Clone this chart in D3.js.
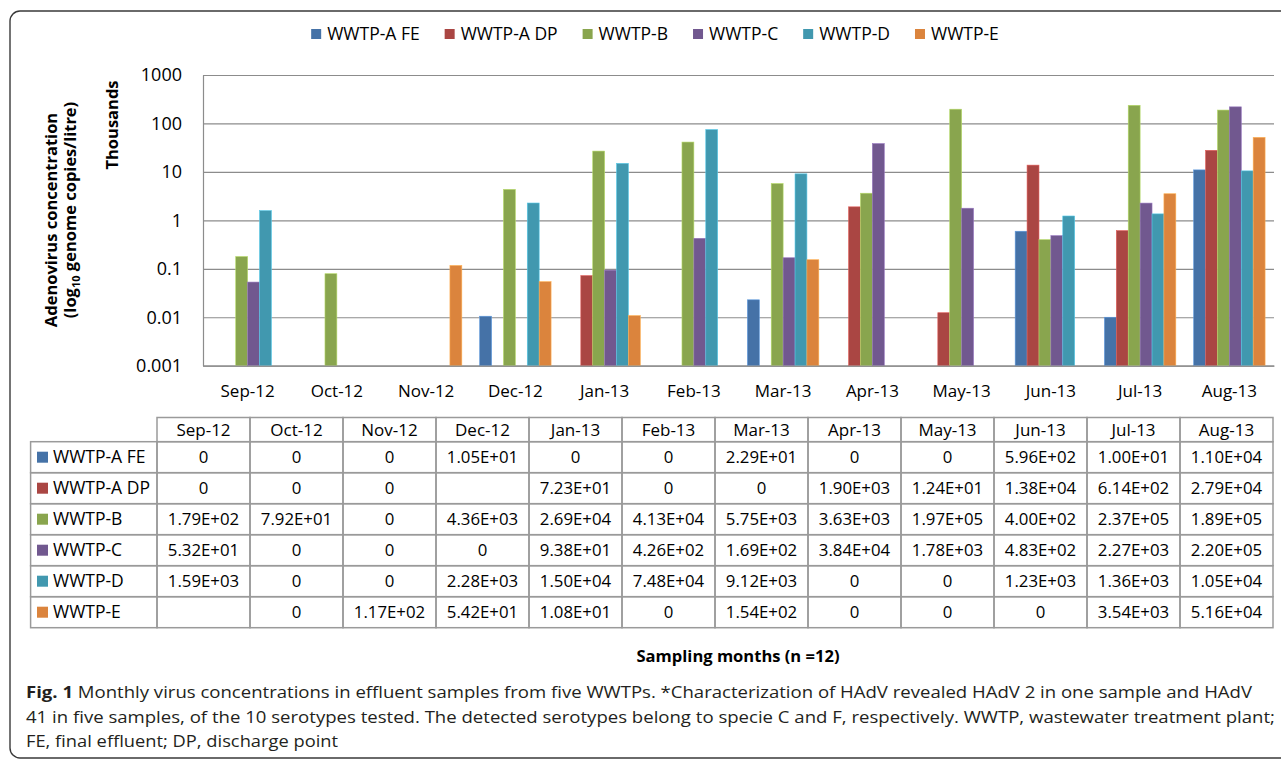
<!DOCTYPE html>
<html>
<head>
<meta charset="utf-8">
<script src="https://cdn.jsdelivr.net/npm/d3@7"></script>
<style>
    body { margin: 0; background: #fff; }
    svg { display: block; font-family: "Open Sans", sans-serif; }
</style>
</head>
<body>
<div id="container"></div>
<script>
// Months on the x axis and in the table header
const months = ["Sep-12", "Oct-12", "Nov-12", "Dec-12", "Jan-13", "Feb-13",
    "Mar-13", "Apr-13", "May-13", "Jun-13", "Jul-13", "Aug-13"];

const seriesNames = ["WWTP-A FE", "WWTP-A DP", "WWTP-B", "WWTP-C", "WWTP-D", "WWTP-E"];
const seriesColors = ["#4572A7", "#AA4643", "#89A54E", "#71588F", "#4198AF", "#DB843D"];

// genome copies / litre, null = empty cell in the table
const wwtpAFE = [0, 0, 0, 10.5, 0, 0, 22.9, 0, 0, 596, 10.0, 11000];
const wwtpADP = [0, 0, 0, null, 72.3, 0, 0, 1900, 12.4, 13800, 614, 27900];
const wwtpB = [179, 79.2, 0, 4360, 26900, 41300, 5750, 3630, 197000, 400, 237000, 189000];
const wwtpC = [53.2, 0, 0, 0, 93.8, 426, 169, 38400, 1780, 483, 2270, 220000];
const wwtpD = [1590, 0, 0, 2280, 15000, 74800, 9120, 0, 0, 1230, 1360, 10500];
const wwtpE = [null, 0, 117, 54.2, 10.8, 0, 154, 0, 0, 0, 3540, 51600];

const yTicks = [0.001, 0.01, 0.1, 1, 10, 100, 1000];

const captionLines = [
    "Monthly virus concentrations in effluent samples from five WWTPs. *Characterization of HAdV revealed HAdV 2 in one sample and HAdV",
    "41 in five samples, of the 10 serotypes tested. The detected serotypes belong to specie C and F, respectively. WWTP, wastewater treatment plant;",
    "FE, final effluent; DP, discharge point"
];

const seriesValues = [wwtpAFE, wwtpADP, wwtpB, wwtpC, wwtpD, wwtpE];
const series = seriesNames.map((name, i) => ({
    name: name,
    color: seriesColors[i],
    values: seriesValues[i]
}));

const W = 1281, H = 761;
const plot = { left: 203, right: 1274, top: 75, bottom: 365.7 };

const svg = d3.select("#container")
    .append("svg")
    .attr("width", W)
    .attr("height", H);

// outer frame (right side runs off the picture)
svg.append("rect")
    .attr("x", 10).attr("y", 11)
    .attr("width", 1320).attr("height", 747)
    .attr("rx", 10)
    .attr("fill", "none")
    .attr("stroke", "#3a3a3a")
    .attr("stroke-width", 1.4);

// scales
const x0 = d3.scaleBand()
    .domain(months)
    .range([plot.left, plot.right]);

const x1 = d3.scaleBand()
    .domain(seriesNames)
    .range([0, x0.bandwidth()])
    .paddingOuter(0.75);

const y = d3.scaleLog()
    .domain([0.001, 1000])
    .range([plot.bottom, plot.top]);

// gridlines
svg.append("g")
    .attr("class", "grid")
    .attr("transform", `translate(${plot.left},0)`)
    .call(d3.axisLeft(y).tickValues(yTicks).tickSize(-(plot.right - plot.left)).tickFormat(""))
    .call(g => g.select(".domain").remove())
    .call(g => g.selectAll("line").attr("stroke", "#8c8c8c").attr("stroke-width", 1.2));

// y axis
svg.append("g")
    .attr("transform", `translate(${plot.left},0)`)
    .call(d3.axisLeft(y).tickValues(yTicks).tickSize(0).tickPadding(21).tickFormat(d => String(d)))
    .call(g => g.select(".domain").attr("stroke", "#8c8c8c").attr("stroke-width", 1.2))
    .call(g => g.selectAll("text")
        .attr("font-family", "Open Sans, sans-serif")
        .attr("font-size", 18)
        .attr("fill", "#000"));

// bars
const monthGroups = svg.append("g")
    .selectAll("g")
    .data(months)
    .join("g")
    .attr("transform", d => `translate(${x0(d)},0)`);

monthGroups.selectAll("rect")
    .data((m, i) => series
        .map(s => ({ name: s.name, color: s.color, value: s.values[i] }))
        .filter(d => d.value != null && d.value > 0))
    .join("rect")
    .attr("x", d => x1(d.name))
    .attr("width", x1.bandwidth())
    .attr("y", d => y(d.value / 1000))
    .attr("height", d => plot.bottom - y(d.value / 1000))
    .attr("fill", d => d.color)
    .attr("stroke", d => d3.color(d.color).brighter(0.8))
    .attr("stroke-width", 0.6);

// x axis
svg.append("g")
    .attr("transform", `translate(0,${plot.bottom})`)
    .call(d3.axisBottom(x0).tickSize(0).tickPadding(19))
    .call(g => g.select(".domain").attr("stroke", "#8c8c8c").attr("stroke-width", 1.2))
    .call(g => g.selectAll("text")
        .attr("font-family", "Open Sans, sans-serif")
        .attr("font-size", 17)
        .attr("fill", "#000"));

// y axis titles
svg.append("text")
    .attr("transform", "translate(57,220) rotate(-90)")
    .attr("text-anchor", "middle")
    .attr("font-size", 16.5)
    .attr("font-weight", "bold")
    .text("Adenovirus concentration");

const yTitle2 = svg.append("text")
    .attr("transform", "translate(76,210) rotate(-90)")
    .attr("text-anchor", "middle")
    .attr("font-size", 16.5)
    .attr("font-weight", "bold");
yTitle2.append("tspan").text("(log");
yTitle2.append("tspan").attr("font-size", 11).attr("dy", 4).text("10");
yTitle2.append("tspan").attr("dy", -4).text(" genome copies/litre)");

svg.append("text")
    .attr("transform", "translate(118,125) rotate(-90)")
    .attr("text-anchor", "middle")
    .attr("font-size", 16.5)
    .attr("font-weight", "bold")
    .text("Thousands");

// legend
const legend = svg.append("g").attr("class", "legend");
const legendItems = legend.selectAll("g")
    .data(series)
    .join("g");
legendItems.append("rect")
    .attr("width", 10).attr("height", 10)
    .attr("y", -5)
    .attr("fill", d => d.color);
legendItems.append("text")
    .attr("x", 16)
    .attr("dy", "0.35em")
    .attr("font-size", 17.5)
    .text(d => d.name);

let lx = 0;
legendItems.each(function () {
    d3.select(this).attr("transform", `translate(${lx},34)`);
    lx += 16 + this.querySelector("text").getComputedTextLength() + 25;
});
lx -= 25;
legend.attr("transform", `translate(${655 - lx / 2},0)`);

// data table
const cols = d3.scaleBand()
    .domain(months)
    .range([157, 1273]);

const rows = d3.scaleBand()
    .domain(seriesNames)
    .range([441.7, 627.7]);

const headerTop = 417.5;
const labelLeft = 30.6;
const gridColor = "#9a9a9a";

function fmtCell(v) {
    if (v == null) return "";
    if (v === 0) return "0";
    const [m, e] = v.toExponential(2).split("e");
    const ex = Math.abs(+e);
    return `${m}E${+e < 0 ? "-" : "+"}${ex < 10 ? "0" + ex : ex}`;
}

const table = svg.append("g").attr("class", "table");

// header cells
table.selectAll("rect.head")
    .data(months)
    .join("rect")
    .attr("class", "head")
    .attr("x", d => cols(d))
    .attr("y", headerTop)
    .attr("width", cols.bandwidth())
    .attr("height", rows.range()[0] - headerTop)
    .attr("fill", "none")
    .attr("stroke", gridColor)
    .attr("stroke-width", 1.5);

table.selectAll("text.head")
    .data(months)
    .join("text")
    .attr("class", "head")
    .attr("x", d => cols(d) + cols.bandwidth() / 2)
    .attr("y", (headerTop + rows.range()[0]) / 2)
    .attr("dy", "0.35em")
    .attr("text-anchor", "middle")
    .attr("font-size", 17)
    .text(d => d);

// row label cells
const rowGroups = table.selectAll("g.row")
    .data(series)
    .join("g")
    .attr("class", "row")
    .attr("transform", d => `translate(0,${rows(d.name)})`);

rowGroups.append("rect")
    .attr("x", labelLeft)
    .attr("width", cols.range()[0] - labelLeft)
    .attr("height", rows.bandwidth())
    .attr("fill", "none")
    .attr("stroke", gridColor)
    .attr("stroke-width", 1.5);

rowGroups.append("rect")
    .attr("x", 37)
    .attr("y", rows.bandwidth() / 2 - 5.5)
    .attr("width", 11).attr("height", 11)
    .attr("fill", d => d.color);

rowGroups.append("text")
    .attr("x", 53)
    .attr("y", rows.bandwidth() / 2)
    .attr("dy", "0.35em")
    .attr("font-size", 17.5)
    .text(d => d.name);

const cells = rowGroups.selectAll("g.cell")
    .data(d => d.values.map((v, i) => ({ month: months[i], value: v })))
    .join("g")
    .attr("class", "cell")
    .attr("transform", d => `translate(${cols(d.month)},0)`);

cells.append("rect")
    .attr("width", cols.bandwidth())
    .attr("height", rows.bandwidth())
    .attr("fill", "none")
    .attr("stroke", gridColor)
    .attr("stroke-width", 1.5);

cells.append("text")
    .attr("x", cols.bandwidth() / 2)
    .attr("y", rows.bandwidth() / 2)
    .attr("dy", "0.35em")
    .attr("text-anchor", "middle")
    .attr("font-size", 16.8)
    .text(d => fmtCell(d.value));

// x axis title
svg.append("text")
    .attr("x", 738)
    .attr("y", 662)
    .attr("text-anchor", "middle")
    .attr("font-size", 15.5)
    .attr("font-weight", "bold")
    .attr("textLength", 203)
    .attr("lengthAdjust", "spacingAndGlyphs")
    .text("Sampling months (n =12)");

// figure caption
const captionEnds = [1252, 1275, 338];
const captionX = 26;
captionLines.forEach((line, i) => {
    const t = svg.append("text")
        .attr("x", captionX)
        .attr("y", 698 + i * 24.7)
        .attr("font-size", 15.5)
        .attr("fill", "#231f20")
        .attr("textLength", captionEnds[i] - captionX)
        .attr("lengthAdjust", "spacingAndGlyphs");
    if (i === 0) {
        t.append("tspan").attr("font-weight", "bold").text("Fig. 1");
        t.append("tspan").text(" " + line);
    } else {
        t.text(line);
    }
});
</script>
</body>
</html>
